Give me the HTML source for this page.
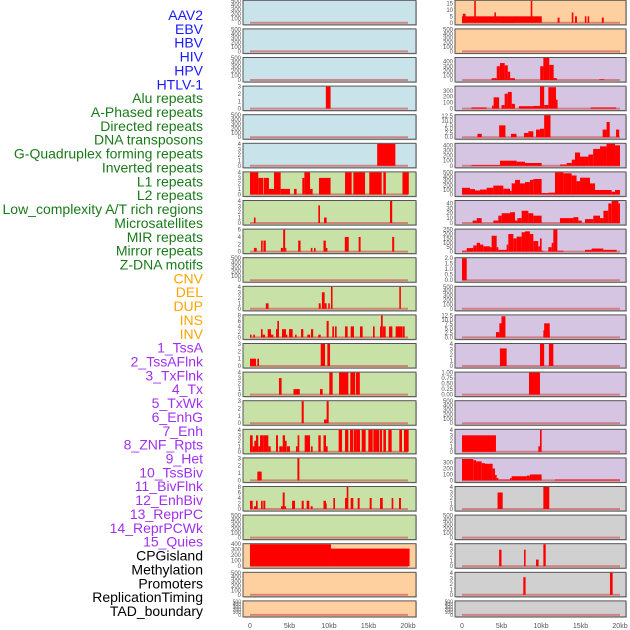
<!DOCTYPE html>
<html><head><meta charset="utf-8">
<style>
html,body{margin:0;padding:0;background:#fff;}
svg{display:block;font-family:"Liberation Sans",sans-serif;}
</style></head>
<body>
<svg id="chart" width="630" height="630" viewBox="0 0 630 630" xmlns="http://www.w3.org/2000/svg"></svg>
<script>
// ---- data ----
const rowLabels = ["AAV2","EBV","HBV","HIV","HPV","HTLV-1","Alu repeats","A-Phased repeats","Directed repeats","DNA transposons","G-Quadruplex forming repeats","Inverted repeats","L1 repeats","L2 repeats","Low_complexity A/T rich regions","Microsatellites","MIR repeats","Mirror repeats","Z-DNA motifs","CNV","DEL","DUP","INS","INV","1_TssA","2_TssAFlnk","3_TxFlnk","4_Tx","5_TxWk","6_EnhG","7_Enh","8_ZNF_Rpts","9_Het","10_TssBiv","11_BivFlnk","12_EnhBiv","13_ReprPC","14_ReprPCWk","15_Quies","CPGisland","Methylation","Promoters","ReplicationTiming","TAD_boundary"];
const labelGroups = [[0,5,"#1a1aff"],[6,18,"#1a7a1a"],[19,23,"#ffa500"],[24,38,"#a030f0"],[39,43,"#000000"]];
const leftFill = [[0,5,"#c8e3ea"],[6,18,"#c8e1a6"],[19,21,"#fed0a0"]];
const rightFill = [[0,1,"#fed0a0"],[2,16,"#d5c5e2"],[17,21,"#d0d0d0"]];
const xTicks = [0,5,10,15,20];
const xTickLabels = ["0","5kb","10kb","15kb","20kb"];
const T500 = [0,100,200,300,400,500];
const T3 = [0,1,2,3];
const T4 = [0,1,2,3,4];
const T8 = [0,2,4,6,8];
const T400 = [0,100,200,300,400];
// tick arrays per row
const ticksL = [T500,T500,T500,T3,T500,T4,T4,T4,[0,2,4,6],T500,T4,T8,T3,T4,T3,T4,T3,T8,T500,T400,T500,T500];
const ticksR = [[0,5,10,15],T500,T400,[0,100,200,300],[0,2.5,5,7.5,10,12.5],T400,T500,[0,10,20,30,40],[0,50,100,150,200,250],[0,0.5,1,1.5,2],T500,[0,2.5,5,7.5,10,12.5],T4,[0,0.25,0.5,0.75,1],T500,T4,[0,100,200,300],T4,T500,T4,T4,T500];
const ymaxL = [500,500,500,3,500,4,4,4,6,500,4,8,3,4,3,4,3,8,500,400,500,500];
const ymaxR = [17,500,480,370,13,430,500,45,250,2,500,12.5,4,1,500,4,370,4,500,4,4,500];
// bars [startKb, endKb, value]
const barsL = [
 [],[],[],
 [[9.6,10.2,3]],
 [],
 [[16.1,18.4,4]],
 [[0,0.5,4],[0.5,1.05,4],[1.05,1.7,3],[1.77,2.4,3],[2.4,3.04,1],[3.04,3.88,4],[3.88,5.06,1],[5.57,5.9,1],[6.62,6.88,3],[6.88,7.6,4],[7.6,7.93,1],[8.73,10.2,3],[12.03,12.87,4],[13.08,14.56,4],[15.1,16.67,4],[16.88,17.2,4],[19.3,20.1,4]],
 [[0.5,0.7,1],[8.65,8.86,3.2],[9.37,9.7,1],[17.72,18.0,4]],
 [[0.5,0.85,1],[1.4,1.6,3],[1.7,2.0,3],[3.9,4.2,1],[4.2,4.45,6],[4.45,4.6,1],[6.1,6.4,3],[7.7,7.9,1],[8.1,8.3,1],[9.3,9.6,3],[9.6,9.8,1],[12.0,12.5,4],[13.75,14.0,4],[18.0,18.25,4]],
 [],
 [[2.0,2.35,1],[8.7,8.95,1],[9.1,9.45,3],[9.45,9.7,1],[9.9,10.1,1],[10.25,10.45,4],[18.9,19.1,4]],
 [[0,0.2,1],[0.42,0.63,1],[1.39,1.6,3],[1.6,1.9,1],[2.24,2.66,3],[2.66,2.95,1],[3.29,3.5,3],[3.46,3.67,6],[4.05,4.56,3],[4.56,4.73,1],[4.94,5.4,3],[5.7,5.9,1],[6.46,6.75,3],[7.26,7.6,1],[7.72,8.0,3],[8.65,8.95,1],[9.7,9.96,6],[10.42,10.63,4],[10.76,10.97,4],[12.03,12.36,4],[12.74,13.16,4],[13.92,14.26,4],[15.57,15.78,4],[16.46,16.8,4],[16.58,16.8,8],[16.84,17.17,4],[17.6,18.02,4],[18.44,18.99,4],[18.99,19.28,4],[19.32,19.58,4]],
 [[0,0.76,1],[0.93,1.14,1],[8.95,9.5,3],[9.79,10.13,3]],
 [[3.67,4.0,3],[5.5,6.3,1],[8.86,9.2,1],[10.04,10.46,4],[11.27,12.45,4],[12.7,13.3,4],[13.4,13.9,4]],
 [[6.54,6.8,3],[9.37,9.7,0.5],[9.7,9.96,3]],
 [[0,0.34,3],[0.34,0.63,1],[0.55,0.76,2],[0.76,1.05,3],[1.05,1.27,1],[1.27,1.69,3],[1.69,1.9,3],[1.9,2.32,3],[2.32,2.62,1],[3.29,3.54,3],[3.71,4.14,1],[4.14,4.43,3],[4.43,4.64,2],[4.68,5.06,1],[5.82,6.03,1],[6.03,6.24,3],[6.92,7.6,3],[7.72,7.93,1],[8.65,8.95,3],[9.3,9.62,3],[9.62,9.83,1],[11.22,11.65,4],[12.03,12.45,4],[12.66,13.08,4],[13.16,13.5,4],[13.5,13.92,4],[14.14,14.64,4],[14.98,15.53,4],[15.61,16.37,4],[16.46,16.71,4],[16.88,17.21,4],[17.51,17.93,4],[18.90,19.24,4],[19.49,20.08,4]],
 [[0.93,1.48,1.2],[6.0,6.25,3]],
 [[0,0.34,3],[0.51,0.76,1],[0.76,0.97,3],[1.39,1.6,3],[1.69,1.94,3],[3.92,4.22,1],[4.14,4.39,6],[4.39,4.56,1],[5.32,5.7,3],[6.54,6.8,3],[7.17,7.51,3],[7.68,7.93,1],[9.3,9.62,3],[9.54,9.71,2],[10.55,10.76,4],[12.03,12.36,4],[12.24,12.45,8],[12.74,13.08,4],[13.63,13.88,4],[15.15,15.4,4],[16.46,16.8,4],[17.93,18.14,4],[18.86,19.11,4]],
 [],
 [[0,10.25,400],[10.25,20.2,320]],
 [],[]
];
const barsR = [
 [[0,10.1,5],[0.1,0.45,7],[1.55,1.75,17],[4.1,4.3,8],[5.0,6.5,2.5],[8.7,8.9,17],[12.1,12.35,4],[13.9,14.1,8],[14.3,14.55,5],[15.55,15.75,5],[15.9,16.1,5],[17.7,17.95,4]],
 [],
 [[3.75,4.4,40],[4.4,4.8,300],[4.8,5.4,370],[5.4,5.8,320],[5.8,6.1,180],[6.1,6.7,40],[9.9,10.3,300],[10.3,11.05,480],[11.05,11.6,330],[11.6,12.0,40],[17.4,18.0,15]],
 [[1.2,3.1,20],[3.8,4.0,50],[4.0,4.7,190],[5.0,5.4,60],[5.4,5.8,250],[5.8,6.3,280],[6.3,6.7,80],[7.2,9.0,40],[9.0,9.87,45],[9.87,10.4,370],[10.4,10.93,60],[10.93,11.9,360],[11.9,12.1,150],[16.3,19.5,20]],
 [[1.95,2.5,2],[4.7,5.5,7],[6.2,6.9,2],[7.85,8.4,2.5],[8.4,9.03,3.5],[9.37,9.87,4.5],[9.87,10.4,5],[10.4,11.2,13],[17.8,18.3,4.5],[18.3,18.7,9],[19.5,19.9,4.5]],
 [[1.22,4.81,15],[4.81,6.92,100],[6.92,7.97,80],[7.97,10.08,55],[12.4,13.25,25],[13.25,13.9,55],[13.9,14.3,120],[14.3,14.94,260],[14.94,16.0,180],[16.0,16.6,220],[16.6,17.47,330],[17.47,18.3,380],[18.3,19.37,430],[19.37,20,400]],
 [[0,1.01,150],[1.01,1.65,120],[1.65,2.28,90],[2.28,3.12,110],[3.12,3.97,150],[3.97,5.23,200],[5.23,6.08,130],[6.08,6.29,80],[6.29,6.71,250],[6.71,7.34,330],[7.34,7.97,250],[7.97,8.6,280],[8.6,9.03,330],[9.03,10.08,350],[10.08,10.93,30],[10.93,11.77,40],[11.77,12.83,500],[12.83,13.88,480],[13.88,14.5,430],[14.5,14.94,300],[14.94,16.2,380],[16.2,16.84,250],[16.84,18.95,100],[18.95,19.37,60],[19.37,20,100]],
 [[1.35,1.86,5],[1.86,2.49,10],[3.97,4.6,5],[4.6,5.02,15],[5.02,6.08,20],[6.08,6.71,22],[6.71,7.0,5],[7.0,7.55,10],[7.55,8.4,25],[8.4,9.03,20],[9.03,10.08,15],[12.4,14.1,10],[14.1,14.73,12],[14.73,15.15,5],[15.57,16.62,8],[16.62,17.47,15],[17.47,17.9,10],[17.9,18.52,25],[18.52,18.95,40],[18.95,19.8,45],[19.8,20,40]],
 [[0,0.6,10],[0.6,1.43,40],[1.43,1.86,70],[1.86,2.28,100],[2.28,2.7,80],[2.7,3.54,60],[3.54,3.75,50],[3.75,4.39,180],[4.39,4.6,50],[4.6,5.65,20],[5.65,5.86,80],[5.86,6.5,200],[6.5,6.92,150],[6.92,7.55,170],[7.55,7.97,220],[7.97,8.6,230],[8.6,9.03,200],[9.03,9.66,120],[9.66,9.87,60],[9.87,10.08,150],[10.08,10.3,10],[10.93,11.35,50],[11.35,11.56,100],[11.56,12.07,250],[12.07,12.83,10],[15.57,16.41,20],[16.41,17.89,35],[17.89,19.58,20]],
 [[0,0.6,2]],
 [],
 [[4.3,4.73,3],[4.73,5.0,8],[5.0,5.5,12],[10.3,10.7,4],[10.4,11.1,8],[10.7,11.1,4]],
 [[4.8,5.65,3.2],[9.87,10.4,4],[11.0,11.56,4]],
 [[8.48,9.87,1]],
 [],
 [[0,4.3,3],[9.66,9.87,1],[9.87,10.08,4]],
 [[0,1.43,360],[1.43,1.77,340],[1.77,2.49,320],[2.49,2.91,290],[2.91,3.88,280],[3.88,4.18,200],[4.18,4.39,90],[4.39,4.6,40],[4.6,6.08,15],[6.08,6.29,40],[6.29,8.19,70],[8.19,8.6,80],[8.6,10.08,100],[11.77,20,15]],
 [[4.5,5.15,3],[10.3,11.05,4]],
 [],
 [[4.7,5.0,3],[7.85,8.05,3],[9.37,9.7,1.2],[10.3,10.6,4]],
 [[7.76,8.05,3.2],[18.73,19.07,4]],
 []
];
// ---- layout ----
const NS = "http://www.w3.org/2000/svg";
const svg = document.getElementById("chart");
function el(tag, attrs, parent){const e=document.createElementNS(NS,tag);for(const k in attrs)e.setAttribute(k,attrs[k]);(parent||svg).appendChild(e);return e;}
const rowTop = i => 0.3 + 28.6*i;
const rowH = i => i===21 ? 16 : 24.5;
const cols = [{x0:243,x1:416,z:250,fills:leftFill,bars:barsL,ticks:ticksL,ymax:ymaxL,side:"left"},
              {x0:455,x1:626,z:462,fills:rightFill,bars:barsR,ticks:ticksR,ymax:ymaxR,side:"right"}];
const kbScale = 7.9;
function fillFor(fills,i){for(const f of fills){if(i>=f[0]&&i<=f[1])return f[2];}return "#fff";}
function fmt(v,ticks){const dec=ticks.some(t=>t%1!==0);if(!dec)return String(v);const two=ticks.some(t=>Math.round(t*100)%10!==0);return v.toFixed(two?2:1);}

// labels
rowLabels.forEach((lab,i)=>{
  let color="#000";for(const g of labelGroups){if(i>=g[0]&&i<=g[1])color=g[2];}
  const t=el("text",{x:203,y:20+13.86*i,"text-anchor":"end","font-size":"14",fill:color});
  t.textContent=lab;
  
  
});

cols.forEach(c=>{
  const xs = kb => c.z + kb*kbScale;
  for(let i=0;i<22;i++){
    const top=rowTop(i), h=rowH(i), bottom=top+h;
    const g=el("g",{});
    
    
    el("rect",{x:c.x0+1,y:top+1,width:c.x1-c.x0,height:h,fill:"#999","opacity":"0.5"},g);
    el("rect",{x:c.x0,y:top,width:c.x1-c.x0,height:h,fill:fillFor(c.fills,i),stroke:"#555","stroke-width":"1"},g);
    const ymax=c.ymax[i];
    const y0=bottom-2, span=(y0-top-0.5);
    const ys = v => y0 - v/ymax*span;
    // baseline
    const bl=el("line",{x1:xs(0),x2:xs(20),y1:y0,y2:y0,stroke:"#d06060","stroke-width":"2",opacity:"0.7"},g);
    
    
    // bars
    c.bars[i].forEach(b=>{
      const r=el("rect",{x:xs(b[0]),y:ys(b[2]),width:Math.max(0.8,(b[1]-b[0])*kbScale),height:y0-ys(b[2]),fill:"#ff0000"},g);
      
      
    });
    // y ticks
    const tk=c.ticks[i];
    tk.forEach(v=>{
      if(v>ymax*1.001 && !(tk===T500 && c.bars[i].length===0)) return;
      const yy = c.bars[i].length===0 && tk===T500 ? y0 - v/500*span : ys(v);
      const t=el("text",{x:c.x0-2,y:yy+2,"text-anchor":"end","font-size":i===21?"5":"6",fill:"#555"},g);
      t.textContent=fmt(v,tk);
      
      
    });
  }
  // x ticks
  xTicks.forEach((v,k)=>{
    const t=el("text",{x:xs(v),y:628,"text-anchor":"middle","font-size":"7",fill:"#555"});
    t.textContent=xTickLabels[k];
    
    
  });
});
</script>
</body></html>
